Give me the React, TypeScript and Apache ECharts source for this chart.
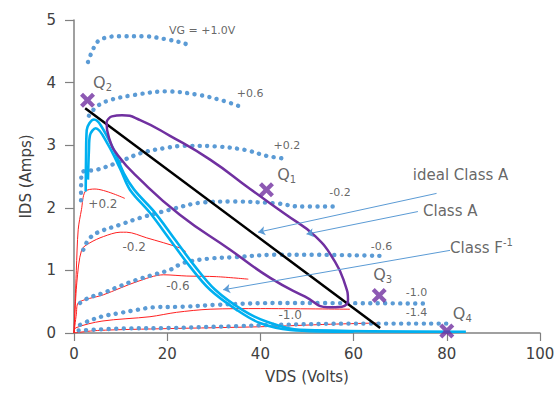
import React, { useEffect, useRef } from 'react';
import * as echarts from 'echarts';

// axes
const xMin = 0, xMax = 100, xStep = 20;
const yMin = 0, yMax = 5, yStep = 1;

// dotted IV curves (VG = +1.0 ... -1.4)
const ivP10 = [[3.0, 4.33], [4.9, 4.64], [6.9, 4.72], [9.9, 4.74], [14.9, 4.74], [19.9, 4.69], [23.5, 4.63], [25.4, 4.57]];
const ivP06 = [[3.2, 3.47], [4.9, 3.62], [7.7, 3.72], [12.7, 3.80], [19.9, 3.86], [27, 3.80], [32, 3.71], [35.6, 3.62]];
const ivP02 = [[1.5, 2.12], [1.6, 2.55], [5.0, 2.61], [9.3, 2.72], [14.6, 2.88], [20, 2.96], [23.5, 2.99], [30.6, 2.98], [37, 2.92], [41.3, 2.83], [45.8, 2.78]];
const ivM02 = [[2.0, 1.33], [3.1, 1.49], [4.9, 1.60], [9.9, 1.73], [14.2, 1.84], [20.6, 1.97], [27, 2.08], [34.1, 2.10], [43.5, 2.07], [48.5, 2.02], [56, 2.02]];
const ivM06 = [[1.3, 0.48], [3.1, 0.56], [6.3, 0.64], [9.9, 0.75], [13.5, 0.85], [17.0, 0.93], [20.6, 1.01], [23.5, 1.12], [29.2, 1.19], [34.2, 1.21], [43.5, 1.25], [50.6, 1.25], [66.3, 1.23]];
const ivM10 = [[1.3, 0.13], [3.1, 0.19], [6.3, 0.27], [9.9, 0.32], [13.5, 0.37], [17, 0.41], [23.5, 0.42], [30.6, 0.45], [44.2, 0.48], [76.4, 0.47]];
const ivM14 = [[1, 0.04], [10, 0.07], [20.6, 0.08], [35, 0.11], [43.5, 0.13], [60, 0.15], [81.3, 0.15]];

// red low-voltage curves
const redP02 = [[0, 0], [0.5, 1.0], [0.9, 1.65], [1.6, 1.97], [2.4, 2.26], [4.5, 2.30], [10.9, 2.15]];
const redM02 = [[0, 0], [0.6, 0.8], [1.65, 1.33], [3.4, 1.44], [6.3, 1.54], [9.9, 1.61], [11.3, 1.61], [15.6, 1.52], [22.7, 1.36], [24, 1.30]];
const redM06 = [[0, 0], [0.5, 0.3], [0.9, 0.48], [6.3, 0.61], [13.5, 0.82], [19.2, 0.93], [24.2, 0.91], [30.6, 0.90], [37.4, 0.86]];
const redM10 = [[0, 0], [0.3, 0.08], [6, 0.19], [16.3, 0.26], [22, 0.33], [29.2, 0.38], [40, 0.39], [59.2, 0.38]];
const redM14 = [[0, 0], [5, 0.04], [20, 0.07], [40, 0.1], [55, 0.14], [65, 0.16]];

// cyan load lines
const cyanA = [[2.51, 2.26], [2.58, 2.77], [2.73, 3.24], [4.29, 3.41], [5.73, 3.32], [8.58, 2.92], [10.7, 2.55], [12.9, 2.29], [17.4, 1.92], [21.7, 1.49], [26.0, 1.06], [30.3, 0.69], [36.3, 0.36], [41.4, 0.18], [48.5, 0.05], [84.1, 0.02]];
const cyanF = [[3.0, 2.45], [3.2, 2.92], [3.43, 3.16], [4.66, 3.27], [7.15, 3.03], [10.0, 2.61], [12.0, 2.29], [16.3, 1.92], [20.6, 1.49], [24.9, 1.06], [29.2, 0.69], [34.9, 0.37], [39.9, 0.16], [46.4, 0.05], [60, 0.02]];

// ideal class A load line
const idealLine = [[2.4, 3.59], [65.7, 0.08]];

// purple class A loop
const purpleLoop = [[6.97, 3.37], [8.15, 3.46], [10.3, 3.48], [14.2, 3.40], [20.6, 3.15], [29.2, 2.77], [37.8, 2.30], [45.3, 1.90], [51.7, 1.55], [56.0, 1.14], [58.2, 0.77], [58.8, 0.53], [57.5, 0.42], [54.5, 0.41], [49.6, 0.58], [42.1, 0.88], [33.5, 1.33], [22.7, 1.89], [14.2, 2.45], [9.4, 2.84], [7.5, 3.12], [6.97, 3.37]];

// Q points
const qNames = ['1', '2', '3', '4'];
const qPoints = [[41.3, 2.29], [2.9, 3.72], [65.5, 0.60], [80, 0.03]];
const qLabelPos = [[43.6, 2.53], [4.1, 4.0], [64.2, 0.93], [81.3, 0.31]];

// text labels
const curveLabelText = ['VG = +1.0V', '+0.6', '+0.2', '-0.2', '-0.6', '-1.0', '-1.4'];
const curveLabelPos = [[27.5, 4.84], [37.8, 3.83], [45.7, 3.0], [57.1, 2.25], [66.0, 1.38], [73.5, 0.64], [73.5, 0.32]];
const redLabelText = ['+0.2', '-0.2', '-0.6', '-1.0'];
const redLabelPos = [[6.2, 2.06], [12.9, 1.38], [22.3, 0.75], [46.4, 0.29]];
const classLabelText = ['ideal Class A', 'Class A', 'Class F'];
const classLabelPos = [[72.7, 2.52], [74.9, 1.95], [80.7, 1.36]];
const arrowFrom = [[77.8, 2.23], [73.8, 1.94], [80.7, 1.32]];
const arrowTo = [[39.5, 1.61], [49.9, 1.58], [32, 0.69]];

const FONT = 'DejaVu Sans';
const BLUE = '#5B9BD5';
const CYAN = '#00B0F0';
const PURPLE = '#7030A0';
const RED = '#FF2020';
const GREY = '#404040';
const XPATH = 'path://M0,2 L2,0 L5,3 L8,0 L10,2 L7,5 L10,8 L8,10 L5,7 L2,10 L0,8 L3,5 Z';

function dotted(name: string, data: number[][]) {
  return {
    name, type: 'line', data, smooth: 0.35, symbol: 'none', silent: true,
    lineStyle: { color: BLUE, width: 4.4, type: [0.1, 7.4], cap: 'round' },
    z: 3,
  };
}
function solid(name: string, data: number[][], color: string, width: number, smooth: number | boolean, z: number) {
  return { name, type: 'line', data, smooth, symbol: 'none', silent: true, lineStyle: { color, width }, z };
}

export default function App() {
  const ref = useRef<HTMLDivElement>(null);
  useEffect(() => {
    if (!ref.current) return;
    const chart = echarts.init(ref.current, undefined, { renderer: 'svg' });
    const labelSeries = {
      name: 'labels', type: 'scatter', symbolSize: 0, silent: true, z: 10,
      data: [
        ...curveLabelText.map((t, i) => ({
          value: curveLabelPos[i],
          label: { show: true, position: 'inside', formatter: t, fontSize: 11, color: GREY, fontFamily: FONT },
        })),
        ...redLabelText.map((t, i) => ({
          value: redLabelPos[i],
          label: { show: true, position: 'inside', formatter: t, fontSize: 12, color: GREY, fontFamily: FONT },
        })),
        ...qNames.map((n, i) => ({
          value: qLabelPos[i],
          label: {
            show: true, position: 'right', distance: 0, formatter: `{q|Q}{s|${n}}`,
            rich: {
              q: { fontSize: 16, lineHeight: 20, verticalAlign: 'middle', color: GREY, fontFamily: FONT },
              s: { fontSize: 10, lineHeight: 10, verticalAlign: 'bottom', color: GREY, fontFamily: FONT },
            },
          },
        })),
        ...classLabelText.map((t, i) => ({
          value: classLabelPos[i],
          label: {
            show: true, position: 'right', distance: 0,
            formatter: i === 2 ? `{t|${t}}{u|-1}` : `{t|${t}}`,
            rich: {
              t: { fontSize: 15, lineHeight: 20, verticalAlign: 'middle', color: GREY, fontFamily: FONT },
              u: { fontSize: 10, lineHeight: 10, verticalAlign: 'top', color: GREY, fontFamily: FONT },
            },
          },
        })),
      ],
    };
    const option = {
      animation: false,
      backgroundColor: '#ffffff',
      textStyle: { fontFamily: FONT },
      grid: { left: 74, right: 20, top: 20, bottom: 61 },
      xAxis: {
        type: 'value', min: xMin, max: xMax, interval: xStep,
        name: 'VDS (Volts)', nameLocation: 'middle', nameGap: 36,
        nameTextStyle: { fontSize: 15, color: GREY, fontFamily: FONT },
        axisLine: { show: true, lineStyle: { color: '#808080', width: 1.5 } },
        axisTick: { show: true, length: 8, lineStyle: { color: '#808080', width: 1.2 } },
        axisLabel: { fontSize: 15, color: GREY, margin: 13, fontFamily: FONT },
        splitLine: { show: false },
      },
      yAxis: {
        type: 'value', min: yMin, max: yMax, interval: yStep,
        name: 'IDS (Amps)', nameLocation: 'middle', nameGap: 41,
        nameTextStyle: { fontSize: 15, color: GREY, fontFamily: FONT },
        axisLine: { show: true, lineStyle: { color: '#808080', width: 1.5 } },
        axisTick: { show: true, length: 9, lineStyle: { color: '#808080', width: 1.2 } },
        axisLabel: { fontSize: 15, color: GREY, margin: 18, fontFamily: FONT },
        splitLine: { show: false },
      },
      series: [
        solid('red +0.2', redP02, RED, 1, 0.3, 2),
        solid('red -0.2', redM02, RED, 1, 0.3, 2),
        solid('red -0.6', redM06, RED, 1, 0.3, 2),
        solid('red -1.0', redM10, RED, 1, 0.3, 2),
        solid('red -1.4', redM14, RED, 1, 0.3, 2),
        dotted('VG +1.0', ivP10),
        dotted('VG +0.6', ivP06),
        dotted('VG +0.2', ivP02),
        dotted('VG -0.2', ivM02),
        dotted('VG -0.6', ivM06),
        dotted('VG -1.0', ivM10),
        dotted('VG -1.4', ivM14),
        solid('Class F-1', cyanA, CYAN, 2.6, 0.35, 4),
        solid('Class F-1 b', cyanF, CYAN, 2.6, 0.35, 4),
        solid('ideal Class A', idealLine, '#000000', 2.5, false, 5),
        solid('Class A', purpleLoop, PURPLE, 2.5, 0.5, 5),
        {
          name: 'arrows', type: 'lines', coordinateSystem: 'cartesian2d', silent: true, z: 6,
          symbol: ['none', 'arrow'], symbolSize: 7,
          lineStyle: { color: BLUE, width: 1, opacity: 1 },
          data: arrowFrom.map((f, i) => ({ coords: [f, arrowTo[i]] })),
        },
        {
          name: 'Q', type: 'scatter', symbol: XPATH, symbolSize: 15, silent: true, z: 8,
          itemStyle: { color: PURPLE },
          data: qPoints,
        },
        labelSeries,
      ],
    };
    chart.setOption(option as any);
    return () => chart.dispose();
  }, []);
  return <div ref={ref} style={{ position: 'absolute', left: 0, top: 0, width: 560, height: 394 }} />;
}
